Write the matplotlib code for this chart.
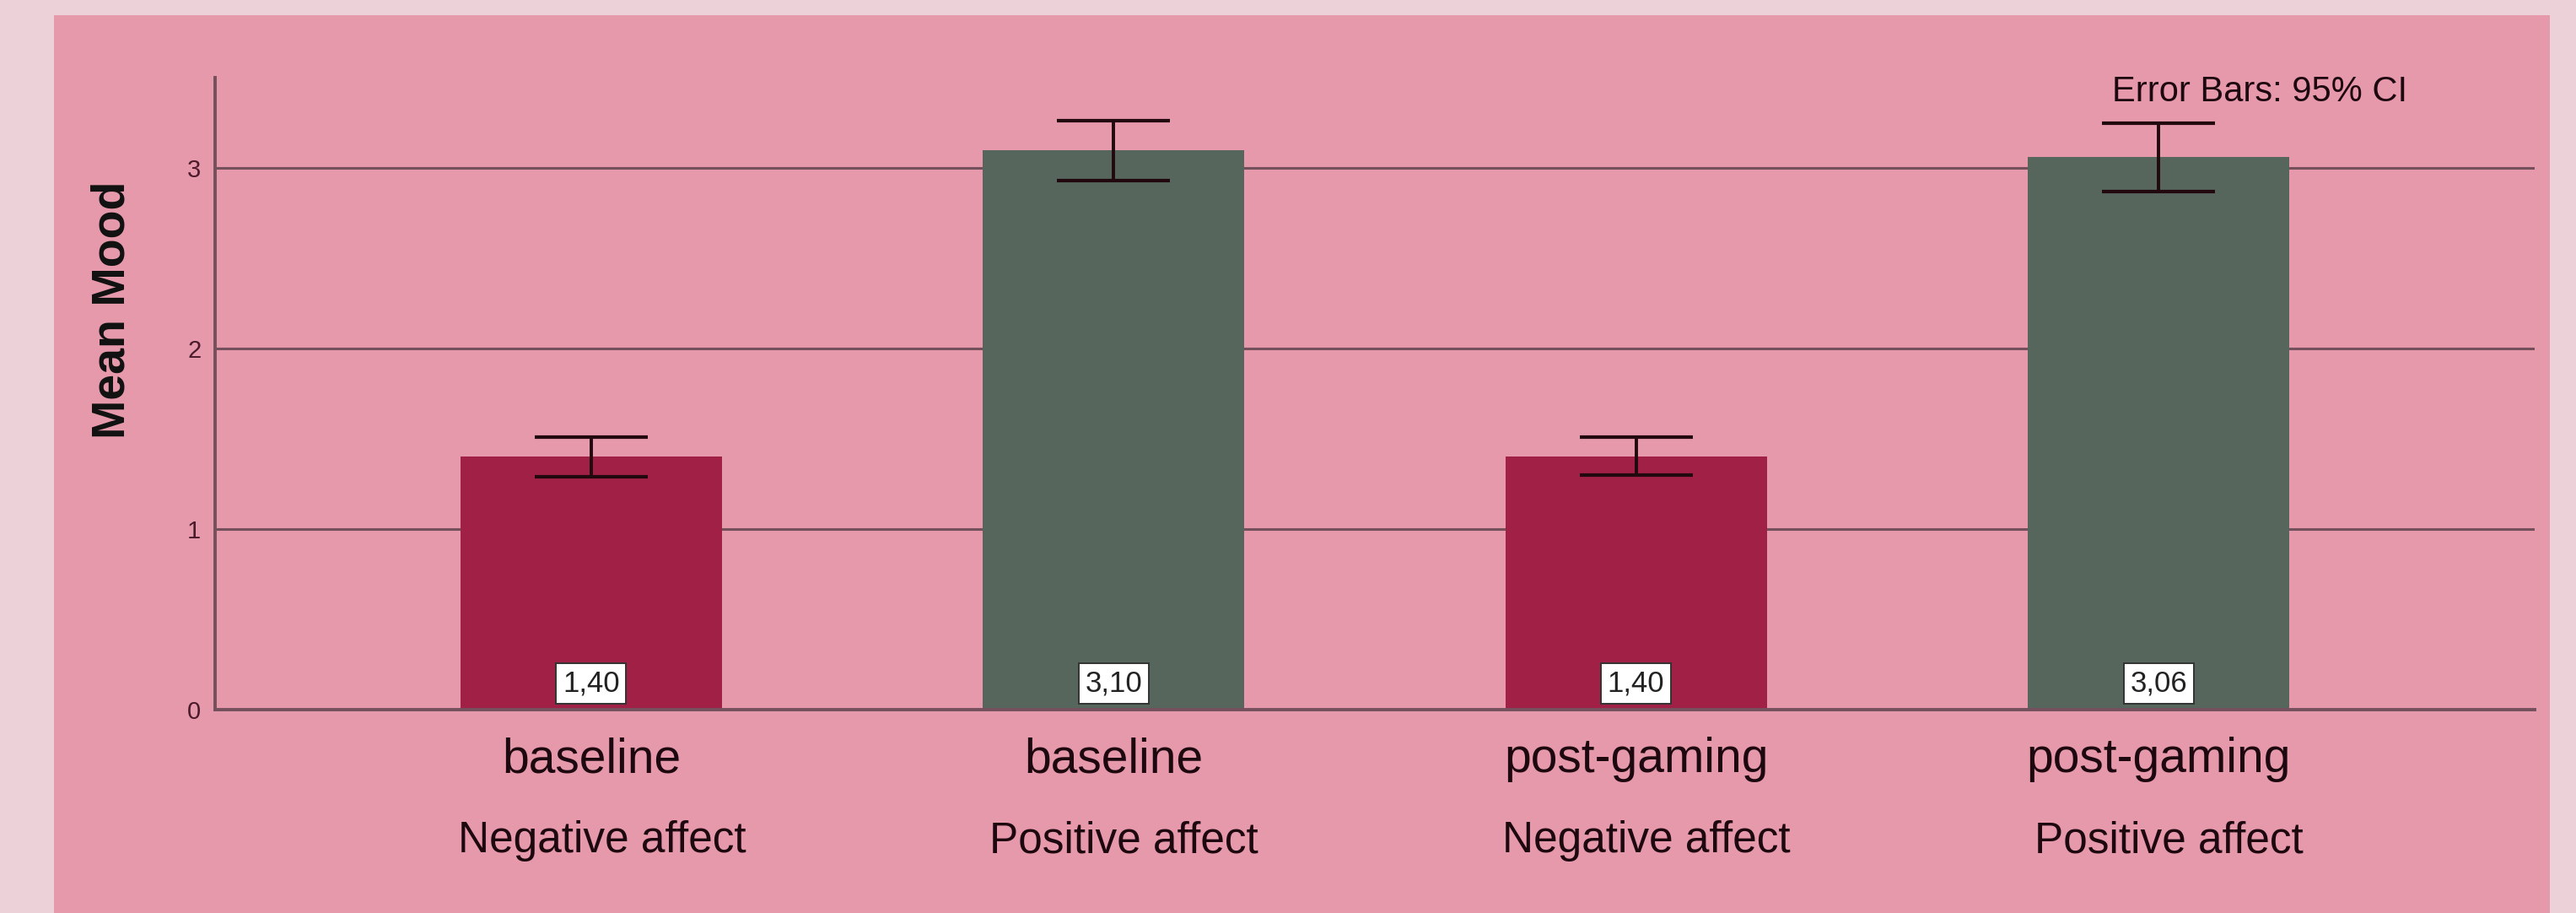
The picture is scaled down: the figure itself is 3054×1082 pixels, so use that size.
import matplotlib
matplotlib.use("Agg")
import matplotlib.pyplot as plt
from matplotlib.patches import Rectangle
import matplotlib.transforms as mtransforms
import numpy as np

plt.rcParams['font.family'] = ['Liberation Sans', 'DejaVu Sans']

groups = ["baseline", "baseline", "post-gaming", "post-gaming"]
affects = ["Negative affect", "Positive affect", "Negative affect", "Positive affect"]
means = [1.40, 3.10, 1.40, 3.06]
ci_low = [1.29, 2.93, 1.30, 2.87]
ci_high = [1.51, 3.26, 1.51, 3.25]
y_ticks = [0, 1, 2, 3]

outer_bg = "#ecd2d8"
panel_bg = "#e699aa"
bar_colors = ["#a02046", "#56665d", "#a02046", "#56665d"]
line_col = "#74505d"
text_col = "#1e0810"

W, H = 3054, 1082
fig = plt.figure(figsize=(W / 100, H / 100), dpi=100, facecolor=outer_bg)

# inner pink panel
fig.patches.append(Rectangle((64 / W, 0), (3023 - 64) / W, (H - 18) / H,
                             transform=fig.transFigure, facecolor=panel_bg,
                             edgecolor="none", zorder=-1))

ax = fig.add_axes([255 / W, 1 - 841 / H, (3005 - 255) / W, (841 - 92) / H])
ax.set_facecolor("none")

x = np.arange(len(means))
means_a = np.array(means)
err = [means_a - np.array(ci_low), np.array(ci_high) - means_a]

for yv in y_ticks[1:]:
    ax.axhline(yv, color=line_col, lw=2.2, zorder=1)

ax.bar(x, means, width=0.5, color=bar_colors, zorder=2)
ax.errorbar(x, means, yerr=err, fmt="none", ecolor="#22080f",
            elinewidth=2.8, capsize=48, capthick=3.0, zorder=3)

for xi, m in zip(x, means):
    ax.text(xi, 0.145, f"{m:.2f}".replace(".", ","), ha="center", va="center",
            fontsize=25, color="#222222", zorder=4,
            bbox=dict(boxstyle="square,pad=0.22", facecolor="white",
                      edgecolor="#333333", linewidth=1.4))

trans = mtransforms.blended_transform_factory(ax.transData, ax.transAxes)
for xi, g, a in zip(x, groups, affects):
    ax.text(xi, -0.099, g, transform=trans, ha="center", va="baseline",
            fontsize=41, color=text_col)
    ax.text(xi + 0.02, -0.226, a, transform=trans, ha="center", va="baseline",
            fontsize=37, color=text_col)

ax.set_xlim(-0.72, 3.72)
ax.set_ylim(0, 3.5)
ax.set_xticks([])
ax.set_yticks(y_ticks)
ax.tick_params(axis="y", length=0, pad=12, labelsize=21, labelcolor="#4b1b2b")

for s in ["top", "right"]:
    ax.spines[s].set_visible(False)
for s in ["left", "bottom"]:
    ax.spines[s].set_color(line_col)
    ax.spines[s].set_linewidth(2.8)

fig.text(134 / W, 1 - 367 / H, "Mean Mood", rotation=90, ha="center", va="center",
         fontsize=40, fontweight="bold", color="#111111")
fig.text(2504 / W, 1 - 120 / H, "Error Bars: 95% CI", ha="left", va="baseline",
         fontsize=30, color=text_col)

fig.savefig("out.png", dpi=100, facecolor=outer_bg)
